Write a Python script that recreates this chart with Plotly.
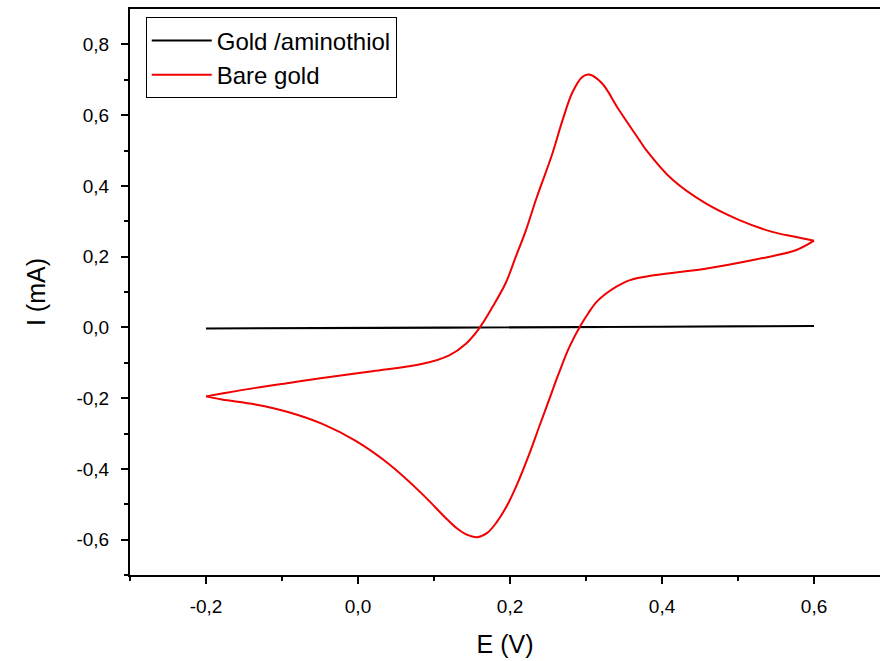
import plotly.graph_objects as go

# Bare gold CV, forward (anodic) scan -0.2 -> 0.6
fwd_E = [-0.200, -0.179, -0.135, -0.091, -0.047, 0.019, 0.085, 0.120, 0.142, 0.159,
         0.177, 0.194, 0.2075, 0.221, 0.234, 0.256, 0.269, 0.282, 0.295, 0.304, 0.321,
         0.343, 0.370, 0.379, 0.414, 0.457, 0.501, 0.545, 0.575, 0.600]
fwd_I = [-0.195, -0.187, -0.171, -0.157, -0.143, -0.124, -0.103, -0.079, -0.046, -0.004,
         0.058, 0.124, 0.199, 0.275, 0.360, 0.493, 0.585, 0.664, 0.708, 0.715, 0.690,
         0.616, 0.530, 0.502, 0.417, 0.351, 0.304, 0.270, 0.256, 0.245]
# Bare gold CV, reverse (cathodic) scan 0.6 -> -0.2
rev_E = [0.600, 0.576, 0.523, 0.457, 0.392, 0.357, 0.339, 0.326, 0.313, 0.303, 0.293,
         0.278, 0.264, 0.251, 0.238, 0.225, 0.212, 0.197, 0.182, 0.170, 0.157, 0.143,
         0.130, 0.115, 0.085, 0.041, -0.003, -0.047, -0.091, -0.135, -0.179, -0.200]
rev_I = [0.245, 0.218, 0.192, 0.166, 0.148, 0.133, 0.114, 0.095, 0.070, 0.040, 0.006,
         -0.056, -0.131, -0.207, -0.283, -0.360, -0.430, -0.500, -0.552, -0.581, -0.593, -0.586,
         -0.568, -0.538, -0.472, -0.387, -0.321, -0.273, -0.240, -0.218, -0.204, -0.195]

# Gold / aminothiol CV
amino_E = [-0.2, 0.0, 0.1, 0.2, 0.3, 0.4, 0.5, 0.6, 0.52, 0.4, 0.2, 0.1, 0.02, -0.2]
amino_I = [-0.003, -0.002, -0.001, 0.000, 0.001, 0.002, 0.003, 0.004,
           0.002, 0.001, -0.001, -0.001, -0.002, -0.003]

x_ticks = [-0.2, 0.0, 0.2, 0.4, 0.6]
x_labels = ["-0,2", "0,0", "0,2", "0,4", "0,6"]
y_ticks = [-0.6, -0.4, -0.2, 0.0, 0.2, 0.4, 0.6, 0.8]
y_labels = ["-0,6", "-0,4", "-0,2", "0,0", "0,2", "0,4", "0,6", "0,8"]

red = "#f00000"
fig = go.Figure()
fig.add_trace(go.Scatter(x=amino_E, y=amino_I, mode="lines", name="Gold /aminothiol",
                         line=dict(color="black", width=2)))
fig.add_trace(go.Scatter(x=fwd_E, y=fwd_I, mode="lines", name="Bare gold", legendgroup="bare",
                         line=dict(color=red, width=2, shape="spline", smoothing=1.0)))
fig.add_trace(go.Scatter(x=rev_E, y=rev_I, mode="lines", name="Bare gold", legendgroup="bare",
                         showlegend=False,
                         line=dict(color=red, width=2, shape="spline", smoothing=1.0)))

font_family = "Liberation Sans, Arial, sans-serif"
fig.update_layout(
    width=880, height=661,
    margin=dict(l=130, r=0, t=9, b=86),
    paper_bgcolor="white", plot_bgcolor="white",
    font=dict(family=font_family, color="black"),
    showlegend=True,
    legend=dict(x=0.021, y=0.985, xanchor="left", yanchor="top",
                bordercolor="black", borderwidth=1, bgcolor="white",
                font=dict(size=24, family=font_family), itemwidth=60,
                entrywidth=262, entrywidthmode="pixels",
                tracegroupgap=0),
    xaxis=dict(range=[-0.3, 0.6868], tickvals=x_ticks, ticktext=x_labels,
               showgrid=False, zeroline=False, showline=True, linecolor="black",
               linewidth=2, mirror=True, ticks="outside", ticklen=7, tickwidth=2,
               tickcolor="black", tickfont=dict(size=19),
               ticklabelstandoff=6,
               minor=dict(tickvals=[-0.3, -0.1, 0.1, 0.3, 0.5], ticks="outside",
                          ticklen=4, tickwidth=2, tickcolor="black"),
               title=dict(text="E (V)", font=dict(size=25), standoff=20)),
    yaxis=dict(range=[-0.7, 0.9], tickvals=y_ticks, ticktext=y_labels,
               showgrid=False, zeroline=False, showline=True, linecolor="black",
               linewidth=2, ticks="outside", ticklen=7, tickwidth=2,
               tickcolor="black", tickfont=dict(size=19),
               ticklabelstandoff=8,
               minor=dict(tickvals=[-0.7, -0.5, -0.3, -0.1, 0.1, 0.3, 0.5, 0.7],
                          ticks="outside", ticklen=4, tickwidth=2, tickcolor="black"),
               title=dict(text="I (mA)", font=dict(size=25), standoff=24)),
)

fig.write_html("out.html")
